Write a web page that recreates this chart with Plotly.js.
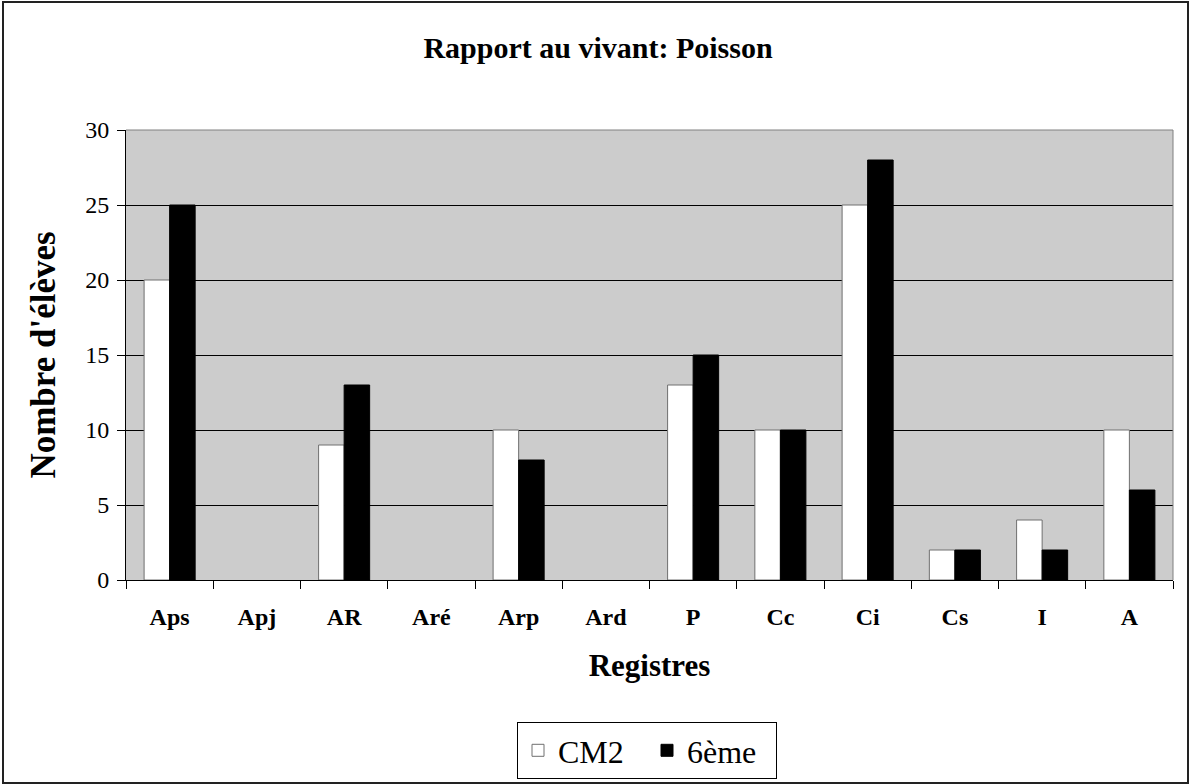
<!DOCTYPE html>
<html>
<head>
<meta charset="utf-8">
<script src="https://cdn.plot.ly/plotly-3.0.1.min.js"></script>
<style>
html,body{margin:0;padding:0;background:#fff;}
#chart{width:1190px;height:784px;}
</style>
</head>
<body>
<div id="chart"></div>
<script>
const categories = ["Aps","Apj","AR","Aré","Arp","Ard","P","Cc","Ci","Cs","I","A"];
const cm2Values = [20,0,9,0,10,0,13,10,25,2,4,10];
const sixiemeValues = [25,0,13,0,8,0,15,10,28,2,2,6];
const seriesNames = ["CM2","6ème"];
const yTicks = [0,5,10,15,20,25,30];

const FONT = "Liberation Serif, Times New Roman, serif";

const traces = [
  {type:"bar", name:seriesNames[0], x:categories, y:cm2Values,
   marker:{color:"#ffffff", line:{color:"#707070", width:cm2Values.map(v=>v>0?1:0)}}},
  {type:"bar", name:seriesNames[1], x:categories, y:sixiemeValues,
   marker:{color:"#000000", line:{color:"#000000", width:sixiemeValues.map(v=>v>0?1:0)}}}
];

const W=1190,H=784,L=126,R=17,T=130,B=204;
const pw=W-L-R, ph=H-T-B;
const px = v => (v-L)/pw;
const py = v => (H-B-v)/ph;

const layout = {
  width:W, height:H,
  margin:{l:L, r:R, t:T, b:B, pad:0, autoexpand:false},
  paper_bgcolor:"#ffffff",
  plot_bgcolor:"#cccccc",
  font:{family:FONT, color:"#000"},
  barmode:"group",
  bargap:0.415,
  bargroupgap:0,
  title:{text:"<b>Rapport au vivant: Poisson</b>", font:{family:FONT,size:30,color:"#000"},
         x:598/W, xref:"container", xanchor:"center", y:1-47/H, yref:"container", yanchor:"middle"},
  xaxis:{
    type:"category",
    tickmode:"array", tickvals:categories,
    ticktext:categories.map(c=>"<b>"+c+"</b>"),
    tickfont:{family:FONT,size:24,color:"#000"},
    ticks:"outside", ticklen:8, tickcolor:"#000", tickson:"boundaries",
    ticklabelstandoff:15,
    showline:true, linecolor:"#000", linewidth:1,
    showgrid:false, zeroline:false,
    range:[-0.5, categories.length-0.5],
    title:{text:"<b>Registres</b>", font:{family:FONT,size:31,color:"#000"}, standoff:25}
  },
  yaxis:{
    range:[0,30],
    tickmode:"array", tickvals:yTicks,
    tickfont:{family:FONT,size:24,color:"#000"},
    ticks:"outside", ticklen:8, tickcolor:"#000",
    ticklabelstandoff:3,
    showline:true, linecolor:"#000", linewidth:1,
    showgrid:true, gridcolor:"#000", gridwidth:1,
    zeroline:false,
    title:{text:"<b>Nombre d'élèves</b>", font:{family:FONT,size:35,color:"#000"}, standoff:18}
  },
  legend:{
    orientation:"h", x:px(647), xanchor:"center", y:py(722), yanchor:"top",
    xref:"paper", yref:"paper",
    font:{family:FONT,size:32,color:"#000"},
    bgcolor:"#ffffff", bordercolor:"#000", borderwidth:1,
    itemwidth:30, entrywidth:84, entrywidthmode:"pixels"
  },
  shapes:[
    {type:"line", xref:"paper", yref:"paper", x0:0, x1:1, y0:1, y1:1, line:{color:"#808080", width:1}},
    {type:"line", xref:"paper", yref:"paper", x0:1, x1:1, y0:0, y1:1, line:{color:"#808080", width:1}},
    {type:"rect", xref:"paper", yref:"paper", x0:px(3), x1:px(1188), y0:py(783), y1:py(2),
     line:{color:"#222", width:2}, fillcolor:"rgba(0,0,0,0)"}
  ]
};

Plotly.newPlot("chart", traces, layout, {displayModeBar:false, staticPlot:true});
</script>
</body>
</html>
